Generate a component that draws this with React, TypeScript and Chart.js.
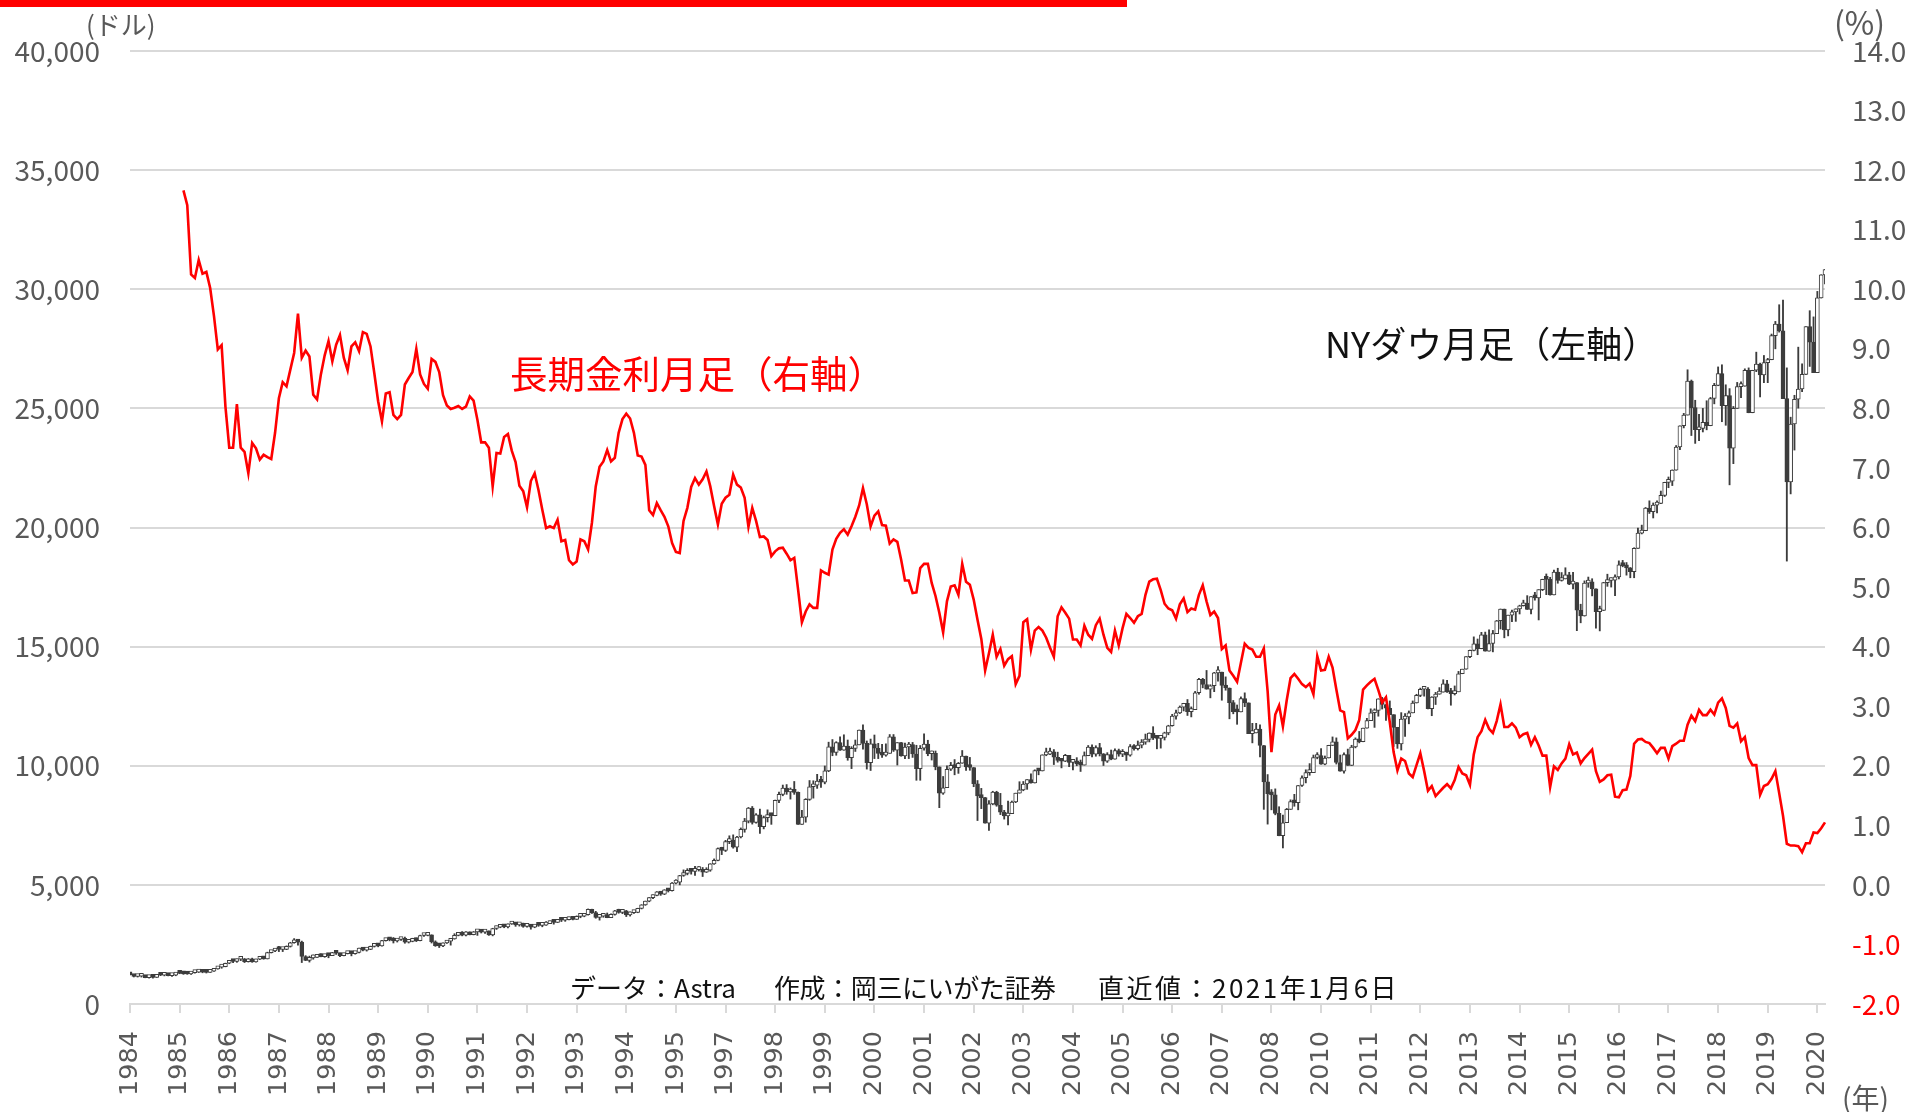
import React, { useEffect, useRef } from 'react';
import { Chart, registerables } from 'chart.js';

Chart.register(...registerables);

// ---- Monthly NY Dow (1984-01 .. 2021-01) ----
const FIRST_YEAR = 1984;
const DOW_OPEN_FIRST = 1259; // 1983-12 close (open of 1984-01)

const dowClose: number[] = [
  1221, 1155, 1165, 1171, 1105, 1132, 1115, 1224, 1207, 1207, 1189, 1212,
  1287, 1284, 1267, 1258, 1315, 1335, 1347, 1334, 1329, 1374, 1472, 1547,
  1571, 1709, 1819, 1784, 1877, 1893, 1775, 1898, 1768, 1878, 1914, 1896,
  2158, 2224, 2305, 2286, 2292, 2419, 2572, 2663, 2596, 1994, 1834, 1939,
  1958, 2072, 1988, 2032, 2031, 2142, 2129, 2032, 2113, 2149, 2115, 2169,
  2342, 2258, 2294, 2419, 2480, 2440, 2661, 2737, 2693, 2645, 2706, 2753,
  2591, 2627, 2707, 2657, 2877, 2881, 2905, 2614, 2452, 2442, 2560, 2634,
  2736, 2882, 2914, 2888, 3028, 2907, 3025, 3044, 3017, 3069, 2895, 3169,
  3223, 3268, 3235, 3359, 3397, 3319, 3394, 3257, 3272, 3226, 3305, 3301,
  3310, 3371, 3435, 3428, 3527, 3516, 3539, 3651, 3555, 3681, 3684, 3754,
  3978, 3832, 3636, 3682, 3758, 3625, 3765, 3913, 3843, 3908, 3739, 3834,
  3844, 4011, 4158, 4321, 4465, 4556, 4708, 4611, 4789, 4755, 5074, 5117,
  5395, 5486, 5587, 5569, 5643, 5655, 5529, 5616, 5882, 6029, 6522, 6448,
  6813, 6878, 6583, 7009, 7331, 7673, 8223, 7622, 7945, 7442, 7823, 7908,
  7907, 8546, 8800, 9063, 8900, 8952, 8883, 7539, 7843, 8592, 9117, 9181,
  9359, 9307, 9786, 10789, 10560, 10971, 10655, 10829, 10337, 10730, 10878, 11497,
  10941, 10128, 10922, 10734, 10522, 10448, 10522, 11215, 10651, 10971, 10414, 10787,
  10887, 10495, 9879, 10735, 10912, 10502, 10523, 9950, 8848, 9075, 9852, 10022,
  9920, 10106, 10404, 9946, 9925, 9243, 8737, 8664, 7592, 8397, 8896, 8342,
  8054, 7891, 7992, 8480, 8850, 8985, 9234, 9416, 9275, 9801, 9782, 10454,
  10488, 10584, 10358, 10226, 10188, 10435, 10140, 10174, 10080, 10027, 10428, 10783,
  10490, 10766, 10504, 10193, 10467, 10275, 10641, 10482, 10569, 10440, 10806, 10718,
  10865, 10993, 11109, 11367, 11168, 11150, 11186, 11381, 11679, 12081, 12222, 12463,
  12622, 12269, 12354, 13063, 13628, 13409, 13212, 13358, 13896, 13930, 13372, 13265,
  12650, 12266, 12263, 12820, 12638, 11350, 11378, 11544, 10851, 9325, 8829, 8776,
  8001, 7063, 7609, 8168, 8500, 8447, 9172, 9496, 9712, 9713, 10345, 10428,
  10067, 10325, 10857, 11009, 10137, 9774, 10466, 10015, 10788, 11118, 11006, 11578,
  11892, 12226, 12320, 12811, 12570, 12414, 12143, 11614, 10913, 11955, 12046, 12218,
  12633, 12952, 13212, 13214, 12393, 12880, 13009, 13091, 13437, 13096, 13026, 13104,
  13861, 14054, 14579, 14840, 15116, 14910, 15500, 14810, 15130, 15546, 16086, 16577,
  15699, 16322, 16458, 16581, 16717, 16827, 16563, 17098, 17043, 17391, 17828, 17823,
  17165, 18133, 17776, 17841, 18011, 17620, 17690, 16528, 16285, 17664, 17720, 17425,
  16466, 16517, 17685, 17774, 17787, 17930, 18432, 18401, 18308, 18142, 19124, 19763,
  19864, 20812, 20663, 20941, 21009, 21350, 21891, 21948, 22405, 23377, 24272, 24719,
  26149, 25029, 24103, 24163, 24416, 24271, 25415, 25965, 26458, 25116, 25538, 23327,
  25000, 25916, 25929, 26593, 24815, 26600, 26864, 26403, 26917, 27046, 28051, 28538,
  28256, 25409, 21917, 24346, 25383, 25813, 26428, 28430, 27782, 26502, 29639, 30606,
  30829,
];

const dowHigh: number[] = [
  1287, 1220, 1185, 1180, 1187, 1140, 1140, 1240, 1240, 1230, 1245, 1215,
  1292, 1305, 1300, 1280, 1320, 1340, 1370, 1355, 1345, 1380, 1480, 1560,
  1580, 1715, 1830, 1860, 1890, 1900, 1910, 1910, 1925, 1890, 1950, 1960,
  2175, 2250, 2335, 2420, 2340, 2440, 2590, 2745, 2665, 2640, 2030, 2010,
  2060, 2090, 2110, 2070, 2060, 2170, 2170, 2140, 2130, 2190, 2170, 2190,
  2350, 2365, 2330, 2430, 2510, 2540, 2670, 2750, 2770, 2790, 2720, 2790,
  2810, 2670, 2760, 2770, 2890, 2940, 2990, 2900, 2650, 2520, 2570, 2660,
  2750, 2950, 2980, 3040, 3040, 3030, 3045, 3055, 3050, 3080, 3060, 3180,
  3270, 3290, 3290, 3370, 3410, 3410, 3410, 3390, 3390, 3280, 3310, 3340,
  3330, 3460, 3480, 3470, 3550, 3550, 3570, 3650, 3650, 3700, 3730, 3790,
  3990, 3980, 3890, 3720, 3770, 3820, 3780, 3930, 3980, 3950, 3930, 3870,
  3890, 4020, 4170, 4320, 4470, 4580, 4720, 4700, 4800, 4800, 5100, 5220,
  5400, 5630, 5680, 5690, 5780, 5770, 5730, 5720, 5890, 6090, 6550, 6580,
  6870, 7060, 7100, 7040, 7390, 7790, 8250, 8290, 7990, 8180, 7890, 8150,
  7980, 8560, 8890, 9190, 9210, 9070, 9340, 8900, 8130, 8620, 9380, 9370,
  9640, 9560, 9990, 10990, 11100, 11010, 11210, 11300, 11080, 10800, 11080, 11500,
  11720, 11040, 11120, 11290, 10940, 10900, 10920, 11310, 11310, 10970, 10980, 10950,
  10980, 10980, 10860, 10850, 11340, 11070, 10620, 10620, 9950, 9550, 10000, 10140,
  10260, 10140, 10640, 10380, 10350, 9920, 9380, 9050, 8670, 8540, 8930, 8930,
  8840, 8130, 8520, 8520, 8850, 9330, 9340, 9420, 9660, 9830, 9860, 10460,
  10740, 10740, 10680, 10570, 10290, 10480, 10350, 10200, 10340, 10240, 10580, 10850,
  10880, 10840, 10940, 10510, 10550, 10660, 10710, 10700, 10680, 10570, 10890, 10890,
  11040, 11100, 11330, 11380, 11640, 11260, 11230, 11410, 11700, 12160, 12340, 12510,
  12620, 12780, 12470, 13120, 13670, 13670, 14000, 13400, 13920, 14160, 13880, 13730,
  13260, 12740, 12550, 12890, 13060, 12640, 11780, 11780, 11720, 10830, 9630, 9000,
  9030, 8280, 7930, 8210, 8570, 8800, 9170, 9580, 9830, 10090, 10450, 10550,
  10720, 10410, 10860, 11210, 11170, 10450, 10540, 10700, 10860, 11170, 11440, 11580,
  11990, 12390, 12390, 12810, 12870, 12570, 12720, 11870, 11610, 12230, 12190, 12300,
  12720, 13000, 13260, 13280, 13280, 12900, 13080, 13280, 13610, 13590, 13250, 13350,
  13960, 14050, 14560, 14860, 15410, 15320, 15600, 15610, 15710, 15680, 16100, 16580,
  16450, 16320, 16530, 16590, 16740, 16950, 17140, 17100, 17280, 17390, 17830, 18050,
  17910, 18210, 18290, 18110, 18310, 18120, 18120, 17550, 16780, 17760, 17920, 17850,
  17150, 16700, 17700, 18040, 17890, 18010, 18600, 18620, 18530, 18320, 19150, 19980,
  20100, 20840, 21120, 21030, 21120, 21530, 21900, 22120, 22420, 23440, 24270, 24790,
  26620, 26190, 25340, 24750, 25000, 25320, 25460, 26050, 26740, 26830, 25990, 25830,
  25080, 26090, 26110, 26660, 26700, 26600, 27360, 26900, 27220, 27100, 28120, 28650,
  29350, 29550, 26700, 24630, 25550, 27570, 26870, 28430, 29100, 28840, 29910, 30610,
  30830,
];

const dowLow: number[] = [
  1220, 1134, 1131, 1130, 1100, 1087, 1086, 1115, 1190, 1180, 1180, 1160,
  1185, 1270, 1245, 1245, 1240, 1295, 1320, 1310, 1300, 1325, 1365, 1460,
  1500, 1560, 1690, 1735, 1750, 1820, 1740, 1760, 1750, 1760, 1860, 1880,
  1890, 2140, 2200, 2200, 2200, 2280, 2390, 2550, 2470, 1740, 1820, 1760,
  1880, 1950, 1980, 1960, 1940, 2030, 2080, 1990, 2020, 2100, 2020, 2090,
  2140, 2230, 2220, 2280, 2390, 2400, 2430, 2640, 2650, 2560, 2600, 2670,
  2550, 2560, 2610, 2620, 2650, 2840, 2860, 2560, 2420, 2370, 2410, 2540,
  2470, 2720, 2860, 2860, 2860, 2900, 2900, 2880, 2980, 2960, 2880, 2860,
  3130, 3200, 3200, 3190, 3340, 3260, 3270, 3220, 3230, 3140, 3200, 3260,
  3240, 3300, 3370, 3350, 3420, 3460, 3470, 3530, 3530, 3550, 3620, 3660,
  3730, 3800, 3600, 3520, 3640, 3620, 3620, 3730, 3810, 3790, 3670, 3690,
  3800, 3830, 3990, 4140, 4290, 4420, 4540, 4560, 4590, 4700, 4740, 5040,
  5000, 5360, 5420, 5450, 5400, 5580, 5350, 5520, 5570, 5860, 6010, 6270,
  6400, 6730, 6540, 6390, 6970, 7210, 7600, 7550, 7590, 7160, 7350, 7640,
  7540, 7900, 8450, 8740, 8800, 8600, 8800, 7540, 7630, 7630, 8550, 8640,
  9050, 9090, 9240, 9750, 10420, 10440, 10640, 10650, 10230, 9880, 10600, 10940,
  10700, 9860, 9800, 10300, 10300, 10350, 10400, 10600, 10600, 10030, 10400, 10300,
  10300, 10350, 9390, 9390, 10650, 10420, 10240, 9830, 8240, 8800, 9260, 9800,
  9620, 9680, 10100, 9800, 9810, 9120, 7700, 8200, 7590, 7290, 8360, 8300,
  7950, 7760, 7520, 7990, 8450, 8850, 8950, 9010, 9270, 9380, 9620, 9780,
  10420, 10470, 10050, 10150, 9910, 10170, 9960, 9820, 10000, 9760, 10030, 10420,
  10370, 10400, 10410, 10010, 10140, 10250, 10300, 10400, 10380, 10220, 10400, 10650,
  10660, 10750, 10900, 11000, 11100, 10710, 10740, 11080, 11300, 11660, 11950, 12190,
  12300, 12110, 12050, 12380, 13000, 13270, 13220, 12850, 13110, 13550, 12750, 13170,
  11970, 12180, 11740, 12260, 12480, 11350, 10960, 11380, 10370, 8170, 7550, 8150,
  7940, 7060, 6550, 7760, 8210, 8300, 8150, 9130, 9280, 9600, 9790, 10290,
  10060, 10040, 10400, 10850, 10070, 9770, 9690, 10010, 10010, 10750, 10960, 11010,
  11640, 11990, 11610, 12080, 12380, 11900, 12140, 10810, 10730, 10660, 11230, 11760,
  12390, 12660, 12900, 12920, 12390, 12100, 12570, 13000, 13090, 13080, 12540, 12970,
  13390, 13880, 14050, 14540, 14820, 14660, 15000, 14810, 14830, 14780, 15620, 15740,
  15370, 15450, 16050, 16060, 16370, 16700, 16560, 16370, 16950, 16120, 17350, 17180,
  17160, 17360, 17660, 17750, 17850, 17600, 17420, 15670, 16000, 16280, 17490, 17130,
  15770, 15660, 16630, 17530, 17500, 17140, 17840, 18350, 18000, 17890, 17890, 19150,
  19730, 19900, 20590, 20400, 20610, 21000, 21300, 21670, 21760, 22660, 23270, 24180,
  24820, 23860, 23530, 23640, 24010, 24100, 24270, 25190, 25950, 24440, 24290, 21790,
  22680, 25060, 25450, 26150, 25120, 24820, 26540, 25480, 26080, 26080, 27040, 27500,
  28200, 25410, 18590, 21410, 23250, 25010, 25700, 26420, 26760, 26500, 26930, 29630,
  30220,
];

// ---- US long-term (10Y) rate, monthly, from 1985-03 to 2021-01 (%) ----
const YIELD_START_INDEX = 14; // 1985-03
const yieldValues: number[] = [
  11.66, 11.41, 10.25, 10.19, 10.49, 10.26, 10.29, 10.02, 9.55, 8.99,
  9.06, 8.03, 7.34, 7.34, 8.07, 7.34, 7.27, 6.91, 7.42, 7.33, 7.14, 7.22,
  7.18, 7.15, 7.59, 8.17, 8.44, 8.37, 8.65, 8.93, 9.59, 8.85, 8.97, 8.87,
  8.23, 8.15, 8.57, 8.89, 9.13, 8.79, 9.07, 9.23, 8.85, 8.64, 9.04, 9.11,
  8.96, 9.28, 9.25, 9.04, 8.59, 8.12, 7.78, 8.25, 8.27, 7.89, 7.82, 7.89,
  8.40, 8.51, 8.61, 9.00, 8.57, 8.41, 8.33, 8.83, 8.78, 8.61, 8.22, 8.05,
  7.99, 8.01, 8.04, 7.99, 8.03, 8.20, 8.13, 7.81, 7.43, 7.43, 7.34, 6.69,
  7.25, 7.24, 7.52, 7.57, 7.29, 7.10, 6.70, 6.61, 6.34, 6.78, 6.91, 6.63,
  6.30, 5.99, 6.02, 5.99, 6.13, 5.77, 5.79, 5.45, 5.38, 5.43, 5.80, 5.77,
  5.63, 6.08, 6.69, 7.02, 7.11, 7.30, 7.11, 7.17, 7.59, 7.82, 7.91, 7.83,
  7.59, 7.21, 7.19, 7.05, 6.29, 6.21, 6.41, 6.29, 6.18, 6.02, 5.74, 5.59,
  5.57, 6.11, 6.33, 6.68, 6.83, 6.72, 6.81, 6.94, 6.69, 6.36, 6.05, 6.40,
  6.50, 6.55, 6.89, 6.72, 6.67, 6.50, 6.01, 6.33, 6.11, 5.84, 5.85, 5.79,
  5.52, 5.60, 5.65, 5.66, 5.56, 5.45, 5.49, 4.96, 4.41, 4.59, 4.71, 4.65,
  4.65, 5.28, 5.24, 5.21, 5.63, 5.81, 5.91, 5.97, 5.88, 6.02, 6.18, 6.37,
  6.66, 6.39, 6.02, 6.20, 6.27, 6.04, 6.03, 5.73, 5.80, 5.76, 5.46, 5.11,
  5.11, 4.90, 4.91, 5.32, 5.39, 5.39, 5.07, 4.85, 4.57, 4.24, 4.76, 5.01,
  5.03, 4.87, 5.39, 5.09, 5.04, 4.79, 4.45, 4.13, 3.60, 3.89, 4.20, 3.83,
  3.96, 3.68, 3.79, 3.84, 3.37, 3.51, 4.41, 4.46, 3.95, 4.27, 4.33, 4.27,
  4.15, 3.98, 3.83, 4.51, 4.66, 4.57, 4.47, 4.12, 4.12, 4.02, 4.35, 4.20,
  4.13, 4.36, 4.47, 4.20, 3.98, 3.91, 4.27, 4.02, 4.31, 4.55, 4.48, 4.40,
  4.51, 4.55, 4.87, 5.09, 5.13, 5.14, 4.95, 4.72, 4.64, 4.61, 4.47, 4.71,
  4.81, 4.58, 4.64, 4.62, 4.87, 5.03, 4.76, 4.53, 4.59, 4.48, 3.96, 4.02,
  3.60, 3.51, 3.41, 3.73, 4.05, 3.98, 3.95, 3.83, 3.83, 3.97, 3.25, 2.23,
  2.86, 3.01, 2.66, 3.10, 3.47, 3.54, 3.46, 3.37, 3.32, 3.38, 3.20, 3.84,
  3.60, 3.61, 3.83, 3.65, 3.28, 2.93, 2.90, 2.46, 2.52, 2.60, 2.77, 3.28,
  3.35, 3.41, 3.46, 3.27, 3.06, 3.15, 2.73, 2.23, 1.92, 2.12, 2.08, 1.87,
  1.81, 2.01, 2.21, 1.91, 1.58, 1.66, 1.49, 1.56, 1.63, 1.69, 1.62, 1.76,
  1.98, 1.87, 1.84, 1.68, 2.19, 2.48, 2.58, 2.77, 2.62, 2.55, 2.75, 3.03,
  2.65, 2.65, 2.71, 2.64, 2.48, 2.53, 2.55, 2.35, 2.48, 2.34, 2.17, 2.17,
  1.64, 1.99, 1.93, 2.04, 2.12, 2.36, 2.19, 2.22, 2.04, 2.13, 2.20, 2.27,
  1.91, 1.73, 1.77, 1.84, 1.85, 1.48, 1.47, 1.59, 1.60, 1.83, 2.37, 2.44,
  2.45, 2.40, 2.38, 2.30, 2.21, 2.30, 2.30, 2.12, 2.33, 2.37, 2.42, 2.42,
  2.69, 2.84, 2.75, 2.94, 2.85, 2.85, 2.94, 2.86, 3.06, 3.13, 2.97, 2.67,
  2.64, 2.71, 2.41, 2.48, 2.13, 2.01, 2.01, 1.51, 1.66, 1.69, 1.78, 1.91,
  1.54, 1.16, 0.69, 0.66, 0.66, 0.65, 0.55, 0.70, 0.70, 0.88, 0.87, 0.95,
  1.05,
];

const X_TICK_EVERY = 13; // a year label every 13 months
const leftTicks = { min: 0, max: 40000, step: 5000 };
const rightTicks = { min: -2, max: 14, step: 1 };

const CANDLE = '#3c3c3c';
const GRID = '#d9d9d9';
const TICK_TEXT = '#595959';
const JP = '"Noto Sans CJK JP", "Noto Sans", sans-serif';

export default function App() {
  const canvasRef = useRef<HTMLCanvasElement | null>(null);

  useEffect(() => {
    const n = dowClose.length;
    const labels: string[] = [];
    for (let i = 0; i < n; i++) labels.push(String(FIRST_YEAR + Math.floor(i / 12)));

    // monthly candle opens at the previous month's close
    const opens = dowClose.map((_, i) => (i === 0 ? DOW_OPEN_FIRST : dowClose[i - 1]));
    const bodies = dowClose.map((c, i) => [opens[i], c]);
    const bodyColors = dowClose.map((c, i) => (c >= opens[i] ? '#ffffff' : CANDLE));
    const wicks = dowClose.map((c, i) => [
      Math.min(dowLow[i], opens[i], c),
      Math.max(dowHigh[i], opens[i], c),
    ]);
    const yields: (number | null)[] = labels.map((_, i) =>
      i >= YIELD_START_INDEX && i - YIELD_START_INDEX < yieldValues.length
        ? yieldValues[i - YIELD_START_INDEX]
        : null
    );

    const chart = new Chart(canvasRef.current as HTMLCanvasElement, {
      type: 'bar',
      data: {
        labels,
        datasets: [
          {
            type: 'line',
            label: '長期金利月足（右軸）',
            data: yields,
            yAxisID: 'y1',
            borderColor: '#ff0000',
            borderWidth: 2.6,
            pointRadius: 0,
            tension: 0,
            spanGaps: false,
            order: 0,
          } as any,
          {
            type: 'bar',
            label: 'NYダウ月足（左軸）',
            data: bodies as any,
            yAxisID: 'y',
            backgroundColor: bodyColors,
            borderColor: CANDLE,
            borderWidth: 1,
            borderSkipped: false,
            barThickness: 4,
            minBarLength: 3,
            grouped: false,
            order: 1,
          } as any,
          {
            type: 'bar',
            label: 'wick',
            data: wicks as any,
            yAxisID: 'y',
            backgroundColor: CANDLE,
            borderWidth: 0,
            barThickness: 1.2,
            grouped: false,
            order: 2,
          } as any,
        ],
      },
      options: {
        animation: false,
        responsive: false,
        maintainAspectRatio: false,
        layout: { padding: { top: 51, left: 0, right: 0, bottom: 0 } },
        plugins: { legend: { display: false }, tooltip: { enabled: false } },
        scales: {
          x: {
            type: 'category',
            offset: false,
            grid: {
              offset: false,
              drawOnChartArea: false,
              drawTicks: true,
              tickLength: 9,
              color: GRID,
              lineWidth: 2,
            },
            border: { display: true, color: GRID, width: 2 },
            ticks: {
              autoSkip: false,
              maxRotation: 90,
              minRotation: 90,
              padding: 18,
              color: TICK_TEXT,
              font: { family: '"DejaVu Sans", sans-serif', size: 25.5 },
            },
            afterBuildTicks: (scale: any) => {
              scale.ticks = scale.ticks.filter((t: any) => t.value % X_TICK_EVERY === 0);
            },
            afterFit: (scale: any) => {
              scale.height = 108;
            },
          },
          y: {
            position: 'left',
            min: leftTicks.min,
            max: leftTicks.max,
            ticks: {
              stepSize: leftTicks.step,
              padding: 30,
              color: TICK_TEXT,
              font: { family: JP, size: 28 },
              callback: (v: any) => Number(v).toLocaleString('en-US'),
            },
            grid: { color: GRID, lineWidth: 2, drawTicks: false },
            border: { display: false },
            afterFit: (scale: any) => {
              scale.width = 130;
            },
          },
          y1: {
            position: 'right',
            min: rightTicks.min,
            max: rightTicks.max,
            ticks: {
              stepSize: rightTicks.step,
              padding: 27,
              color: (ctx: any) => (ctx.tick && ctx.tick.value < 0 ? '#ff0000' : TICK_TEXT),
              font: { family: JP, size: 28 },
              callback: (v: any) => Number(v).toFixed(1),
            },
            grid: { drawOnChartArea: false, drawTicks: false },
            border: { display: false },
            afterFit: (scale: any) => {
              scale.width = 90;
            },
          },
        },
      },
    });
    return () => chart.destroy();
  }, []);

  const txt = (extra: React.CSSProperties): React.CSSProperties => ({
    position: 'absolute',
    whiteSpace: 'nowrap',
    lineHeight: 1,
    fontFamily: JP,
    ...extra,
  });

  return (
    <div style={{ position: 'absolute', left: 0, top: 0, width: 1915, height: 1112, background: '#ffffff', overflow: 'hidden' }}>
      <canvas ref={canvasRef} width={1915} height={1112} style={{ display: 'block', width: 1915, height: 1112 }} />
      <div style={{ position: 'absolute', left: 0, top: 0, width: 1127, height: 7, background: '#ff0000' }} />
      <div style={txt({ left: 86, top: 11, fontSize: 26, color: TICK_TEXT })}>(ドル)</div>
      <div style={txt({ left: 1834, top: 5, fontSize: 32, color: TICK_TEXT })}>(%)</div>
      <div style={txt({ left: 1842, top: 1083, fontSize: 28, color: TICK_TEXT })}>(年)</div>
      <div style={txt({ left: 510, top: 353, fontSize: 37.5, color: '#ff0000' })}>長期金利月足（右軸）</div>
      <div style={txt({ left: 1325, top: 324, fontSize: 36, color: '#111111' })}>NYダウ月足（左軸）</div>
      <div style={txt({ left: 570, top: 974, fontSize: 26, color: '#111111' })}>データ：Astra</div>
      <div style={txt({ left: 774, top: 974, fontSize: 26, color: '#111111', letterSpacing: -0.4 })}>作成：岡三にいがた証券</div>
      <div style={txt({ left: 1098, top: 974, fontSize: 26, color: '#111111', letterSpacing: 2.5 })}>直近値：2021年1月6日</div>
    </div>
  );
}
